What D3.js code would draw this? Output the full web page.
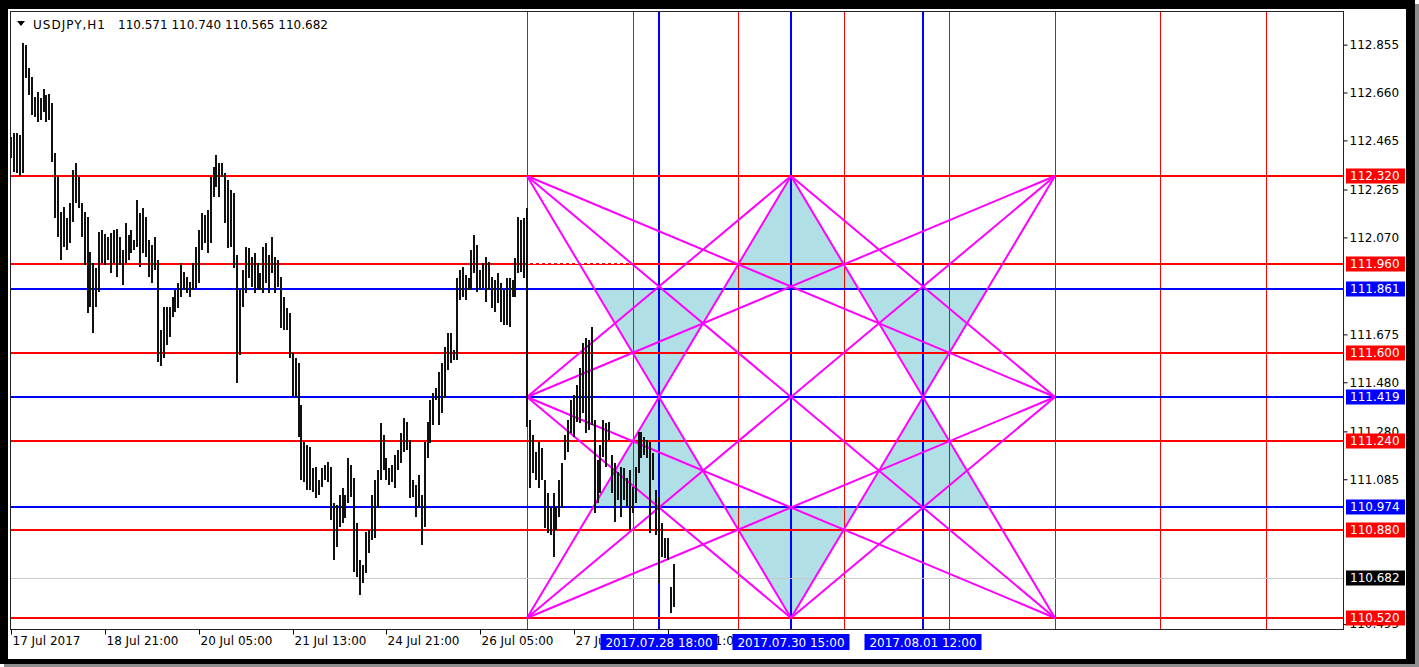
<!DOCTYPE html>
<html>
<head>
<meta charset="utf-8">
<script src="https://cdn.jsdelivr.net/npm/d3@7"></script>
<style>
  html, body { margin: 0; padding: 0; background: #fff; }
  svg { display: block; font-family: "DejaVu Sans", sans-serif; }
</style>
</head>
<body>
<div id="chart"></div>
<script>
// ---- data ----
// hourly bars, index 0 = 17 Jul 13:00, last = 28 Jul 23:00
var barHigh = [
  112.479,112.495,112.495,112.487,112.862,112.853,112.760,112.723,112.642,112.662,
  112.638,112.674,112.650,112.654,112.617,112.414,112.316,112.173,112.194,112.149,
  112.210,112.344,112.373,112.316,112.210,112.173,112.153,112.011,111.966,111.945,
  112.092,112.100,112.084,112.072,112.088,112.100,112.104,112.072,112.019,112.129,
  112.080,112.100,112.059,112.222,112.169,112.190,112.153,112.059,112.039,112.072,
  111.978,111.693,111.787,111.787,111.787,111.827,111.856,111.884,111.966,111.929,
  111.909,111.888,111.966,112.031,112.100,112.169,112.161,112.181,112.316,112.357,
  112.406,112.373,112.373,112.332,112.304,112.263,112.251,111.998,111.856,111.937,
  112.031,112.027,111.990,112.007,111.966,111.925,112.031,112.047,111.998,112.072,
  111.990,111.978,111.909,111.827,111.783,111.762,111.600,111.579,111.559,111.388,
  111.237,111.225,111.216,111.131,111.135,111.082,111.131,111.143,111.155,111.135,
  110.989,110.980,111.021,111.050,111.021,111.172,111.143,111.090,110.907,110.756,
  110.736,110.870,110.879,111.021,111.082,111.123,111.314,111.265,111.172,111.131,
  111.143,111.184,111.204,111.274,111.335,111.318,111.245,111.082,111.062,111.103,
  111.021,111.237,111.318,111.408,111.436,111.457,111.522,111.559,111.624,111.681,
  111.681,111.612,111.905,111.937,111.950,111.917,111.905,112.019,112.080,112.039,
  111.937,111.966,111.990,111.970,111.909,111.897,111.925,111.884,111.856,111.905,
  111.905,111.897,111.986,112.153,112.141,112.149,112.190,111.327,111.265,111.196,
  111.237,111.212,111.082,111.029,110.972,111.029,110.968,111.082,111.151,111.265,
  111.327,111.408,111.428,111.469,111.538,111.640,111.660,111.652,111.705,111.327,
  111.164,111.225,111.327,111.314,111.318,111.184,111.151,111.115,111.135,111.131,
  111.090,111.123,111.054,111.135,111.278,111.278,111.257,111.245,111.237,111.192,
  111.041,111.013,110.907,110.846,110.846,110.646,110.740
];
var barLow = [
  112.393,112.336,112.332,112.320,112.332,112.719,112.650,112.568,112.560,112.540,
  112.548,112.581,112.540,112.548,112.377,112.149,112.072,111.978,112.031,112.019,
  112.047,112.133,112.210,112.190,112.072,111.958,111.762,111.787,111.681,111.787,
  111.848,111.966,111.958,111.978,111.925,111.966,111.909,111.958,111.876,111.966,
  111.978,112.007,112.019,112.031,111.950,112.007,111.990,111.909,111.884,111.937,
  111.563,111.547,111.579,111.632,111.665,111.746,111.766,111.783,111.827,111.856,
  111.844,111.827,111.856,111.864,111.884,112.019,112.047,112.007,112.047,112.235,
  112.275,112.235,112.316,112.129,112.027,112.031,111.945,111.477,111.591,111.787,
  111.844,111.905,111.868,111.844,111.856,111.856,111.844,111.884,111.844,111.925,
  111.844,111.868,111.701,111.693,111.693,111.579,111.424,111.420,111.257,111.082,
  111.074,111.041,111.041,111.033,111.009,111.021,111.054,111.082,111.074,110.919,
  110.757,110.809,110.891,110.907,110.927,110.989,111.013,110.708,110.687,110.614,
  110.663,110.703,110.785,110.838,110.846,110.968,111.082,111.123,111.082,111.062,
  111.074,111.050,111.123,111.151,111.196,111.204,111.009,111.013,110.932,110.972,
  110.817,110.891,111.172,111.233,111.306,111.408,111.306,111.355,111.416,111.530,
  111.559,111.571,111.571,111.815,111.827,111.815,111.856,111.856,111.925,111.848,
  111.856,111.864,111.807,111.856,111.783,111.766,111.803,111.726,111.713,111.713,
  111.705,111.827,111.827,111.925,111.929,111.905,111.298,111.050,111.111,111.082,
  111.050,111.082,110.887,110.866,110.858,110.769,110.878,110.932,110.968,111.164,
  111.196,111.274,111.257,111.318,111.314,111.355,111.274,111.286,111.306,110.948,
  110.989,111.029,111.176,111.135,111.245,111.029,110.911,111.001,110.932,111.001,
  110.972,110.879,110.948,110.989,111.111,111.172,111.184,111.172,110.866,111.082,
  110.858,110.663,110.769,110.765,110.756,110.541,110.565
];

var symbolName = "USDJPY,H1";
var lastOHLC = ["110.571", "110.740", "110.565", "110.682"];

// scale marks visible beside the price tags
var priceTicks = [112.855, 112.660, 112.465, 112.265, 112.070, 111.675,
                  111.480, 111.280, 111.085, 110.495];

var timeTickIdx = [0, 32, 64, 96, 128, 160, 192, 224];
var timeTickText = ["17 Jul 2017", "18 Jul 21:00", "20 Jul 05:00", "21 Jul 13:00",
                    "24 Jul 21:00", "26 Jul 05:00", "27 Jul 13:00", "28 Jul 21:00"];

var redLevels = [112.320, 111.960, 111.600, 111.240, 110.880, 110.520];
var blueLevels = [111.861, 111.419, 110.974];
var lastPrice = 110.682;

var redTimes = [176, 212, 248, 284, 320, 356, 392, 428];
var blueTimes = [221, 266, 311];
var blueTimeText = ["2017.07.28 18:00", "2017.07.30 15:00", "2017.08.01 12:00"];

// star: corners / midpoints, in (bar index, price)
var starIdx = [176, 266, 356];
var starPrice = [112.320, 111.420, 110.520];
// each line joins two points given as [col,row] of the grid above
var starLines = [
  [[0,0],[2,1]], [[0,0],[1,2]], [[0,0],[2,2]],
  [[2,0],[0,1]], [[2,0],[1,2]], [[2,0],[0,2]],
  [[0,2],[1,0]], [[0,2],[2,1]],
  [[2,2],[1,0]], [[2,2],[0,1]],
  [[1,0],[0,1]], [[1,0],[2,1]],
  [[1,2],[0,1]], [[1,2],[2,1]]
];
// shaded triangles (bar index, price)
var shadeTris = [
  [[266,112.320],[243.05,111.861],[288.95,111.861]],
  [[198.95,111.861],[243.05,111.861],[221,111.420]],
  [[288.95,111.861],[333.05,111.861],[311,111.420]],
  [[266,110.520],[243.3,110.974],[288.7,110.974]],
  [[198.7,110.974],[243.3,110.974],[221,111.420]],
  [[288.7,110.974],[333.3,110.974],[311,111.420]]
];
// short dotted segment on the 111.960 level
var dotSeg = {from: 176, to: 212, price: 111.960};

// ---- drawing ----
var W = 1419, H = 667;
var plot = {left: 11, top: 12, right: 1343, bottom: 629};

var x = d3.scaleLinear().domain([0, 454]).range([11.3, 11.3 + 454 * 2.931]).interpolate(d3.interpolateRound);
var y = d3.scaleLinear().domain([112.320, 110.520]).range([176, 618]);

var svg = d3.select("#chart").append("svg")
  .attr("width", W).attr("height", H);

// window frame + shadow
svg.append("rect").attr("x", 4).attr("y", 4).attr("width", W - 4).attr("height", H - 4).attr("fill", "#8e8e8e");
svg.append("rect").attr("x", 0).attr("y", 0).attr("width", 1415).attr("height", 664).attr("fill", "#000");
svg.append("rect").attr("x", 8).attr("y", 9).attr("width", 1398).attr("height", 650).attr("fill", "#fff");

svg.append("clipPath").attr("id", "plotclip")
  .append("rect")
  .attr("x", plot.left).attr("y", plot.top)
  .attr("width", plot.right - plot.left).attr("height", plot.bottom - plot.top);

var g = svg.append("g").attr("clip-path", "url(#plotclip)");

// shaded triangles
g.selectAll(".tri").data(shadeTris).enter().append("path")
  .attr("class", "tri")
  .attr("d", function(t) {
    return "M" + t.map(function(p) { return x(p[0]) + "," + y(p[1]); }).join("L") + "Z";
  })
  .attr("fill", "#b0e0e6");

// vertical lines
g.selectAll(".vred").data(redTimes).enter().append("line")
  .attr("x1", function(d) { return x(d) + 0.5; }).attr("x2", function(d) { return x(d) + 0.5; })
  .attr("y1", plot.top).attr("y2", plot.bottom)
  .attr("stroke", "#ff0000").attr("stroke-width", 1).attr("shape-rendering", "crispEdges");

g.selectAll(".vblue").data(blueTimes).enter().append("line")
  .attr("x1", function(d) { return x(d); }).attr("x2", function(d) { return x(d); })
  .attr("y1", plot.top).attr("y2", plot.bottom)
  .attr("stroke", "#0000ff").attr("stroke-width", 2).attr("shape-rendering", "crispEdges");

// horizontal levels
g.append("line")
  .attr("x1", plot.left).attr("x2", plot.right)
  .attr("y1", Math.round(y(lastPrice)) + 0.5).attr("y2", Math.round(y(lastPrice)) + 0.5)
  .attr("stroke", "#c8c8c8").attr("stroke-width", 1);

g.selectAll(".hred").data(redLevels).enter().append("line")
  .attr("x1", plot.left).attr("x2", plot.right)
  .attr("y1", function(d) { return Math.round(y(d)); }).attr("y2", function(d) { return Math.round(y(d)); })
  .attr("stroke", "#ff0000").attr("stroke-width", 2);

g.selectAll(".hblue").data(blueLevels).enter().append("line")
  .attr("x1", plot.left).attr("x2", plot.right)
  .attr("y1", function(d) { return Math.round(y(d)); }).attr("y2", function(d) { return Math.round(y(d)); })
  .attr("stroke", "#0000ff").attr("stroke-width", 2);

// dotted segment
g.append("line")
  .attr("x1", x(dotSeg.from)).attr("x2", x(dotSeg.to))
  .attr("y1", Math.round(y(dotSeg.price)) - 0.5).attr("y2", Math.round(y(dotSeg.price)) - 0.5)
  .attr("stroke", "#fff").attr("stroke-width", 1).attr("stroke-dasharray", "3,3");

// star lines
g.selectAll(".star").data(starLines).enter().append("line")
  .attr("x1", function(l) { return x(starIdx[l[0][0]]); })
  .attr("y1", function(l) { return y(starPrice[l[0][1]]); })
  .attr("x2", function(l) { return x(starIdx[l[1][0]]); })
  .attr("y2", function(l) { return y(starPrice[l[1][1]]); })
  .attr("stroke", "#ff00ff").attr("stroke-width", 2);

// bars (high-low)
g.selectAll(".bar").data(barHigh).enter().append("rect")
  .attr("x", function(d, i) { return x(i) - 1; })
  .attr("width", 2)
  .attr("y", function(d) { return Math.round(y(d)); })
  .attr("height", function(d, i) { return Math.max(1, Math.round(y(barLow[i])) - Math.round(y(d))); })
  .attr("fill", "#111");

// plot border
svg.append("rect")
  .attr("x", plot.left - 0.5).attr("y", plot.top - 0.5)
  .attr("width", plot.right - plot.left + 1).attr("height", plot.bottom - plot.top + 1)
  .attr("fill", "none").attr("stroke", "#222").attr("stroke-width", 1);

// right price axis
var yAxis = svg.append("g")
  .attr("transform", "translate(" + (plot.right + 0.5) + ",0)")
  .call(d3.axisRight(y).tickValues(priceTicks).tickSize(4).tickFormat(d3.format(".3f")));
yAxis.select(".domain").remove();
yAxis.selectAll("line").attr("stroke", "#000");
yAxis.selectAll("text").attr("font-size", 12).attr("font-family", "DejaVu Sans").attr("fill", "#000").attr("x", 6);

// bottom time axis
var xAxis = svg.append("g")
  .attr("transform", "translate(0," + (plot.bottom + 0.5) + ")")
  .call(d3.axisBottom(x).tickValues(timeTickIdx).tickSize(5)
        .tickFormat(function(d, i) { return timeTickText[i]; }));
xAxis.select(".domain").remove();
xAxis.selectAll("line").attr("stroke", "#000");
xAxis.selectAll("text").attr("font-size", 12).attr("font-family", "DejaVu Sans")
  .attr("fill", "#000").attr("text-anchor", "start").attr("x", 1).attr("y", 7);

// price tags on the right
function priceTag(p, fill) {
  var yy = Math.round(y(p));
  svg.append("rect").attr("x", plot.right + 3).attr("y", yy - 7.5)
    .attr("width", 59).attr("height", 15).attr("fill", fill);
  svg.append("text").attr("x", plot.right + 7).attr("y", yy).attr("dy", "0.36em")
    .attr("font-size", 12).attr("fill", "#fff").text(d3.format(".3f")(p));
}
redLevels.forEach(function(p) { priceTag(p, "#ff0000"); });
blueLevels.forEach(function(p) { priceTag(p, "#0000ff"); });
priceTag(lastPrice, "#000");

// time tags for the blue verticals
blueTimes.forEach(function(t, i) {
  var xx = x(t);
  svg.append("rect").attr("x", xx - 58.5).attr("y", 634).attr("width", 117).attr("height", 16)
    .attr("fill", "#0000ff");
  svg.append("text").attr("x", xx).attr("y", 646.5).attr("text-anchor", "middle")
    .attr("font-size", 12).attr("fill", "#fff").text(blueTimeText[i]);
});

// header
svg.append("path").attr("d", "M17,21L25,21L21,26Z").attr("fill", "#000");
svg.append("text").attr("x", 33).attr("y", 29).attr("font-size", 12).attr("fill", "#000")
  .attr("textLength", 72).attr("lengthAdjust", "spacing").text(symbolName);
svg.append("text").attr("x", 118).attr("y", 29).attr("font-size", 12).attr("fill", "#000").text(lastOHLC.join(" "));
</script>
</body>
</html>
